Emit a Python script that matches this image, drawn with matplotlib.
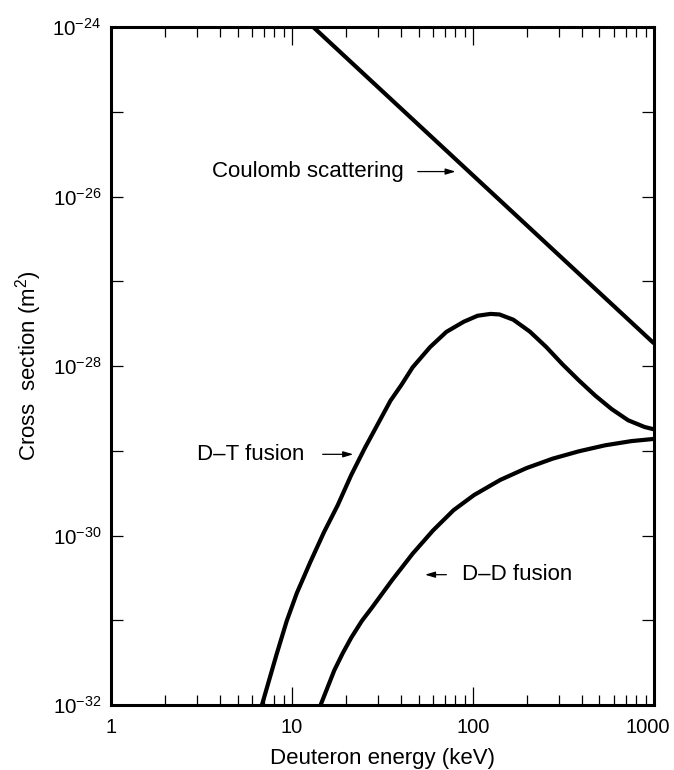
import matplotlib
matplotlib.use("Agg")
import matplotlib.pyplot as plt
from matplotlib.ticker import FixedLocator, NullFormatter, FixedFormatter
from matplotlib.transforms import ScaledTranslation

plt.rcParams['font.family'] = ['Liberation Sans', 'DejaVu Sans']
plt.rcParams['mathtext.fontset'] = 'custom'
plt.rcParams['mathtext.rm'] = 'Liberation Sans'
plt.rcParams['mathtext.it'] = 'Liberation Sans:italic'
plt.rcParams['mathtext.bf'] = 'Liberation Sans:bold'

# Data (deuteron energy in keV, cross section in m^2)
coulomb_E = [13.1, 1000]
coulomb_sigma = [1e-24, 1.85e-28]

dt_E = [6.82, 8.23, 9.35, 10.63, 12.64, 15.02, 17.89, 21.27, 25.28, 30.10, 35.0,
        40.2, 46.4, 57.9, 71.3, 88.9, 106, 125, 140, 167, 206, 253, 312, 385, 474,
        584, 720, 886, 1000]
dt_sigma = [1e-32, 4.0e-32, 9.8e-32, 2.09e-31, 4.89e-31, 1.094e-30, 2.28e-30,
            5.2e-30, 1.08e-29, 2.15e-29, 3.9e-29, 5.97e-29, 9.65e-29, 1.67e-28,
            2.53e-28, 3.33e-28, 3.92e-28, 4.12e-28, 4.06e-28, 3.52e-28, 2.55e-28,
            1.69e-28, 1.05e-28, 6.75e-29, 4.47e-29, 3.10e-29, 2.29e-29, 1.91e-29,
            1.79e-29]

dd_E = [14.39, 17.12, 19.05, 21.27, 24.3, 27.59, 35.79, 46.42, 60.22, 78.1, 101.3,
        141.5, 197.3, 275.5, 384.8, 537.0, 749.9, 1000]
dd_sigma = [1e-32, 2.56e-32, 4.07e-32, 6.25e-32, 9.8e-32, 1.40e-31, 2.99e-31,
            6.11e-31, 1.15e-30, 1.99e-30, 3.00e-30, 4.53e-30, 6.24e-30, 8.07e-30,
            9.86e-30, 1.16e-29, 1.30e-29, 1.38e-29]

x_ticks = [1, 10, 100, 1000]
x_ticklabels = ['1', '10', '100', '1000']
y_label_exps = [-24, -26, -28, -30, -32]

fig = plt.figure(figsize=(6.74, 7.70), dpi=100)
ax = fig.add_axes([0.1647, 0.0844, 0.9703 - 0.1647, 0.9649 - 0.0844])
ax.set_xscale('log')
ax.set_yscale('log')
ax.set_xlim(1, 1000)
ax.set_ylim(1e-32, 1e-24)

lw = 3.0
ax.plot(coulomb_E, coulomb_sigma, color='black', lw=lw, solid_capstyle='butt')
ax.plot(dt_E, dt_sigma, color='black', lw=lw, solid_joinstyle='round')
ax.plot(dd_E, dd_sigma, color='black', lw=lw, solid_joinstyle='round')

for s in ax.spines.values():
    s.set_linewidth(2.2)

# x ticks
ax.xaxis.set_major_locator(FixedLocator(x_ticks))
ax.xaxis.set_major_formatter(FixedFormatter(x_ticklabels))
minors = [m * d for d in (1, 10, 100) for m in range(2, 10)]
ax.xaxis.set_minor_locator(FixedLocator(minors))
ax.xaxis.set_minor_formatter(NullFormatter())

# y ticks: every decade, labels on even exponents
yt = [10.0 ** e for e in range(-32, -23)]
ax.yaxis.set_major_locator(FixedLocator(yt))
ylabels = [(r'$10^{%d}$' % e) if e in y_label_exps else '' for e in range(-32, -23)]
ax.yaxis.set_major_formatter(FixedFormatter(ylabels))
ax.yaxis.set_minor_locator(FixedLocator([]))

ax.tick_params(axis='x', which='major', direction='in', length=13, width=0.9,
               top=True, labelsize=14.5, pad=9)
ax.tick_params(axis='x', which='minor', direction='in', length=7, width=0.9, top=True)
ax.tick_params(axis='y', which='major', direction='in', length=8.5, width=0.9,
               right=True, labelsize=14.8, pad=7)

ax.set_xlabel('Deuteron energy (keV)', fontsize=16, labelpad=8)
ax.set_ylabel('Cross  section (m$^2$)', fontsize=16, labelpad=6)

# nudge the last x tick label slightly left, as in the reference
fig.canvas.draw()
lab = ax.xaxis.get_major_ticks()[-1].label1
lab.set_transform(lab.get_transform() + ScaledTranslation(-6 / 100, 0, fig.dpi_scale_trans))

arrow = dict(arrowstyle='-|>,head_length=0.6,head_width=0.18', color='black', lw=0.9,
             shrinkA=0, shrinkB=0)
ax.annotate('', xy=(80.2, 1.97e-26), xytext=(49.5, 1.97e-26), arrowprops=arrow)
ax.text(3.61, 1.97e-26, 'Coulomb scattering', fontsize=16, va='center', ha='left')

ax.annotate('', xy=(21.8, 9.08e-30), xytext=(14.77, 9.08e-30), arrowprops=arrow)
ax.text(2.99, 9.08e-30, 'D\u2013T fusion', fontsize=16, va='center', ha='left')

ax.annotate('', xy=(54.3, 3.45e-31), xytext=(71.3, 3.45e-31), arrowprops=arrow)
ax.text(86.5, 3.45e-31, 'D\u2013D fusion', fontsize=16, va='center', ha='left')

fig.savefig('out.png', dpi=100)
